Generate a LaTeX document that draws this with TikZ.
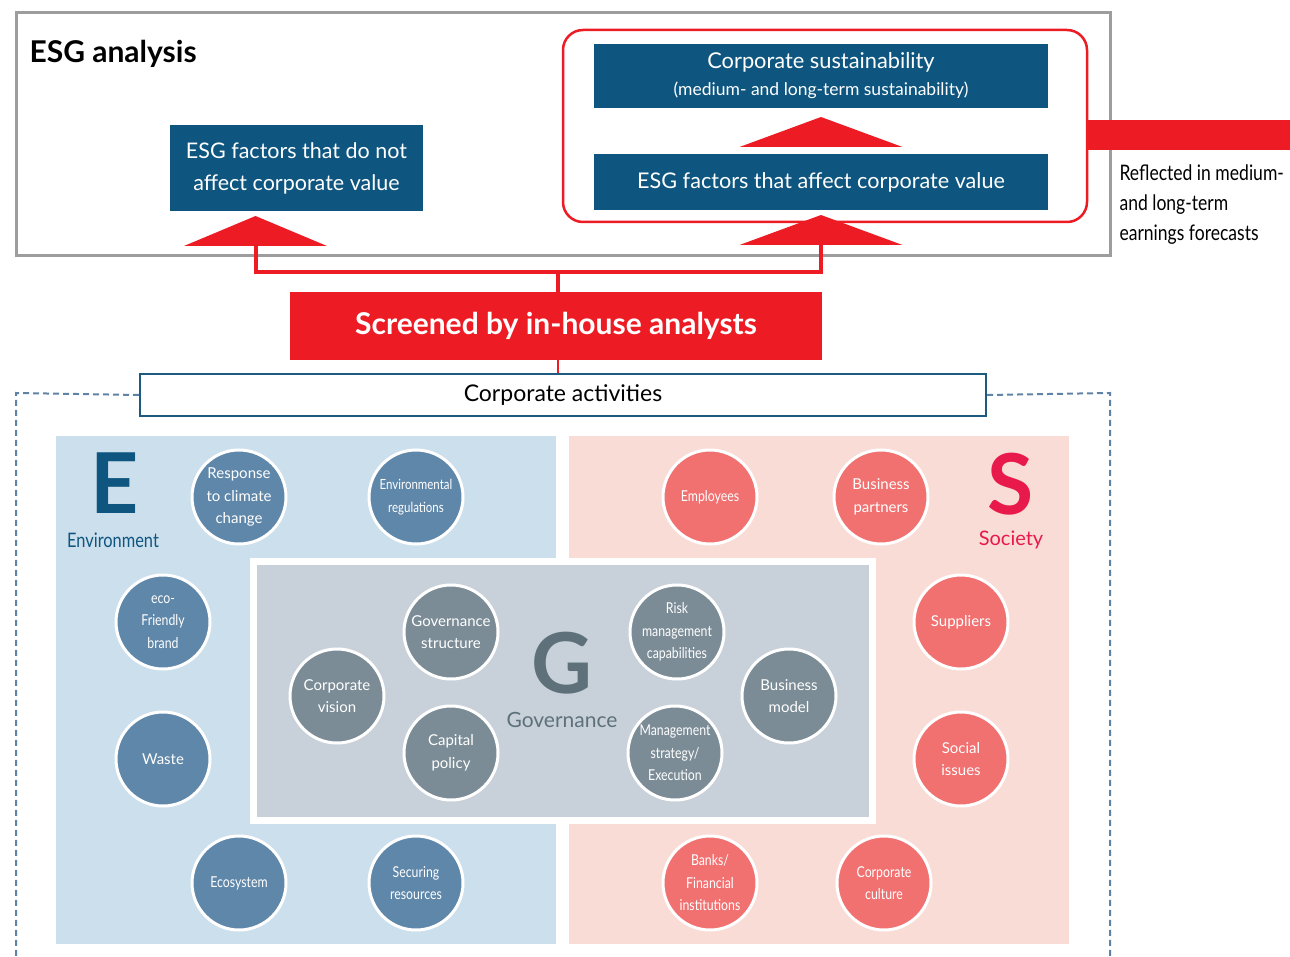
\documentclass[tikz,border=0pt]{standalone}
\usepackage{fontspec}
\setmainfont{Lato}
\newfontfamily\narrowfont{Lato}[FakeStretch=0.82]
\definecolor{esgblue}{HTML}{0E5680}
\definecolor{esgred}{HTML}{ED1C24}
\definecolor{framegray}{HTML}{9D9D9D}
\definecolor{actblue}{HTML}{1E5A80}
\definecolor{dashblue}{HTML}{5F83A6}
\definecolor{ebg}{HTML}{CCDFEC}
\definecolor{sbg}{HTML}{FADCD6}
\definecolor{gbg}{HTML}{C8D1D9}
\definecolor{ecol}{HTML}{5F87AA}
\definecolor{scol}{HTML}{F17171}
\definecolor{gcol}{HTML}{7B8C96}
\definecolor{sletter}{HTML}{E8194B}
\definecolor{gletter}{HTML}{5E717B}
\tikzstyle{bluebox} = [rectangle, fill=esgblue, text=white, align=center, inner sep=0]
\tikzstyle{redline} = [esgred, line width=4]
\tikzstyle{bubble} = [circle, minimum size=94, draw=white, line width=3, text=white, align=center, inner sep=-12pt, font=\fontsize{15}{22.5}\selectfont]
\tikzstyle{ebubble} = [bubble, fill=ecol]
\tikzstyle{sbubble} = [bubble, fill=scol]
\tikzstyle{gbubble} = [bubble, fill=gcol]
\tikzstyle{narrow} = [font=\narrowfont\fontsize{15}{22.5}\selectfont]
\tikzstyle{bigletter} = [font=\bfseries\fontsize{84}{84}\selectfont, inner sep=0]
\newcommand{\redtri}[3]{
	\fill[esgred] (#1,#2) -- ++(#3,30) -- ++(-2*#3,0) -- cycle;
}

\begin{document}
\begin{tikzpicture}[x=1pt, y=-1pt]
	\useasboundingbox (0,0) rectangle (1290,957);
	\node (analysis) at (563,134.5) [draw=framegray, line width=3, minimum width=1094, minimum height=243] {};
	\node (title) at (26,54) [anchor=west, font=\bfseries\fontsize{30}{34}\selectfont] {ESG analysis};
	\node (valuebox) at (825,126) [draw=esgred, line width=2.5, rounded corners=20, minimum width=524, minimum height=192] {};
	\node (notaffect) at (296.5,168) [bluebox, minimum width=253, minimum height=86, font=\fontsize{21.5}{32}\selectfont] {ESG factors that do not\\affect corporate value};
	\node (sustain) at (821,76) [bluebox, minimum width=454, minimum height=64, font=\fontsize{21.8}{27}\selectfont] {Corporate sustainability\\{\fontsize{17.5}{20}\selectfont(medium- and long-term sustainability)}};
	\node (affect) at (821,182) [bluebox, minimum width=454, minimum height=56, font=\fontsize{21.6}{26}\selectfont] {ESG factors that affect corporate value};
	\redtri{255.5}{216}{71.5}
	\redtri{821}{117}{81.5}
	\redtri{821}{215}{81.5}
	\coordinate (triL) at (255.5,246);
	\coordinate (triR) at (821,244);
	\coordinate (split) at (558,272);
	\coordinate (barend) at (1290,135);
	\draw[esgred, line width=30] (valuebox.east |- barend) -- (barend);
	\node (reflect) at (1116,205) [anchor=west, align=left, font=\narrowfont\fontsize{21.4}{30}\selectfont] {Reflected in medium-\\and long-term\\earnings forecasts};
	\node (screen) at (556,326) [fill=esgred, text=white, minimum width=532, minimum height=68, font=\bfseries\fontsize{30}{34}\selectfont] {Screened by in-house analysts};
	\node (acts) at (563,395) [draw=actblue, line width=2, fill=white, minimum width=846, minimum height=42, font=\fontsize{23}{27}\selectfont] {Corporate activities};
	\draw[redline] (triL) |- (split) -| (triR);
	\draw[redline] (split) -- (split |- screen.north);
	\draw[redline, line width=2.5] (split |- screen.south) -- (split |- acts.north);
	\draw[dashblue, line width=2, dash pattern=on 6pt off 4pt] (acts.west) -- (16,393) -- (16,957);
	\draw[dashblue, line width=2, dash pattern=on 6pt off 4pt] (acts.east) -- (1110,393) -- (1110,957);
	\fill[ebg] (56,436) rectangle (556,944);
	\fill[sbg] (569,436) rectangle (1069,944);
	\fill[white] (250,558) rectangle (876,824);
	\fill[gbg] (257,565) rectangle (869,817);
	\node (eletter) at (115,483) [bigletter, text=esgblue] {E};
	\node (elabel) at (113,540) [text=esgblue, font=\narrowfont\fontsize{20}{24}\selectfont] {Environment};
	\node (sletter) at (1011,484) [bigletter, text=sletter] {S};
	\node (slabel) at (1011,540) [text=sletter, font=\fontsize{20}{24}\selectfont] {Society};
	\node (gletter) at (562,663) [bigletter, text=gletter] {G};
	\node (glabel) at (562,720) [text=gletter, font=\fontsize{21}{24}\selectfont] {Governance};
	\node (climate) at (239,497) [ebubble] {Response\\to climate\\change};
	\node (regul) at (416,497) [ebubble, narrow, font=\narrowfont\fontsize{14}{23}\selectfont] {Environmental\\regulations};
	\node (ecobrand) at (163,622) [ebubble, narrow] {eco-\\Friendly\\brand};
	\node (waste) at (163,759) [ebubble] {Waste};
	\node (ecosys) at (239,883) [ebubble, narrow] {Ecosystem};
	\node (resources) at (416,883) [ebubble, narrow] {Securing\\resources};
	\node (employees) at (710,497) [sbubble, narrow] {Employees};
	\node (partners) at (881,497) [sbubble] {Business\\partners};
	\node (suppliers) at (961,622) [sbubble] {Suppliers};
	\node (social) at (961,759) [sbubble] {Social\\issues};
	\node (banks) at (710,883) [sbubble, narrow] {Banks/\\Financial\\institutions};
	\node (culture) at (884,883) [sbubble, narrow] {Corporate\\culture};
	\node (vision) at (337,696) [gbubble] {Corporate\\vision};
	\node (govstruct) at (451,632) [gbubble] {Governance\\structure};
	\node (capital) at (451,753) [gbubble] {Capital\\policy};
	\node (risk) at (677,632) [gbubble, narrow] {Risk\\management\\capabilities};
	\node (bizmodel) at (789,696) [gbubble] {Business\\model};
	\node (strategy) at (675,753) [gbubble, narrow] {Management\\strategy/\\Execution};
\end{tikzpicture}
\end{document}
